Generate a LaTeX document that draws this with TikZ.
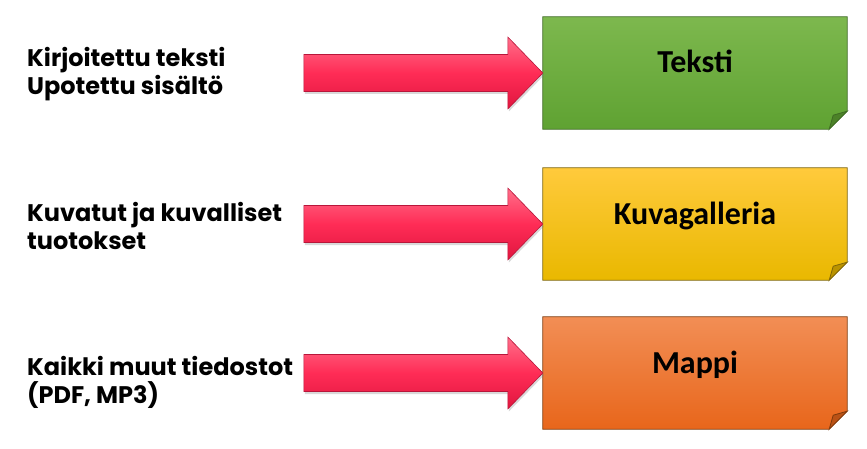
\documentclass[tikz,border=0pt]{standalone}
\usepackage{fontspec}
\setmainfont{Carlito}
\newfontfamily\gothic{Poppins}
\usetikzlibrary{backgrounds,shadows}
\definecolor{vihrY}{HTML}{7DB84E}
\definecolor{vihrA}{HTML}{5FA232}
\definecolor{vihrR}{HTML}{3E6B23}
\definecolor{keltY}{HTML}{FFCA3C}
\definecolor{keltA}{HTML}{E9B800}
\definecolor{keltR}{HTML}{7F6508}
\definecolor{oranY}{HTML}{F28E55}
\definecolor{oranA}{HTML}{E8661B}
\definecolor{oranR}{HTML}{7F3A0C}
\definecolor{nuoliY}{HTML}{FF6F8A}
\definecolor{nuoliK}{HTML}{FF2C56}
\definecolor{nuoliA}{HTML}{E0163F}
\definecolor{nuoliR}{HTML}{B8163A}
\begin{document}
\begin{tikzpicture}[x=1pt, y=1pt,
    lappu/.style={minimum width=304pt, minimum height=112pt, inner sep=0pt,
        text height=20pt, text depth=20pt, font=\bfseries\fontsize{32}{36}\selectfont},
    selite/.style={anchor=north west, align=left, inner sep=0pt,
        font=\gothic\bfseries\fontsize{24}{28}\selectfont},
    nuoli/.style={draw=nuoliR, line width=.6pt, top color=nuoliY, bottom color=nuoliA,
        middle color=nuoliK, drop shadow={opacity=.3, shadow xshift=1pt, shadow yshift=-2.5pt}}]
\useasboundingbox (0,0) rectangle (867,448);

% selitteet vasemmalla
\node[selite] (kirj) at (27,401) {Kirjoitettu teksti\\Upotettu sisältö};
\node[selite] (kuvat) at (27,246) {Kuvatut ja kuvalliset\\tuotokset};
\node[selite] (muut) at (27,92) {Kaikki muut tiedostot\\(PDF, MP3)};

% laput ja nuolet
\foreach \nimi/\otsikko/\y/\yla/\ala/\reuna in
    {teksti/Teksti/375/vihrY/vihrA/vihrR, galleria/Kuvagalleria/224/keltY/keltA/keltR, mappi/Mappi/75/oranY/oranA/oranR}
{
    \node[lappu] (\nimi) at (695,\y) {\otsikko};
    \begin{pgfonlayer}{background}
    \draw[\reuna, line width=.8pt, top color=\yla, bottom color=\ala]
        (\nimi.north west)--(\nimi.north east)--([yshift=18pt]\nimi.south east)
        --([xshift=-18pt]\nimi.south east)--(\nimi.south west)--cycle;
    \draw[\reuna, line width=.8pt, fill=\ala!80!black]
        ([xshift=-18pt]\nimi.south east)--++(4,14)--++(14,4)--cycle;
    \end{pgfonlayer}
    \draw[nuoli](\nimi.west)--++(-35,36)--++(0,-17.5)--++(-204,0)--++(0,-37)
        --++(204,0)--++(0,-17.5)--cycle;
}

\end{tikzpicture}
\end{document}
